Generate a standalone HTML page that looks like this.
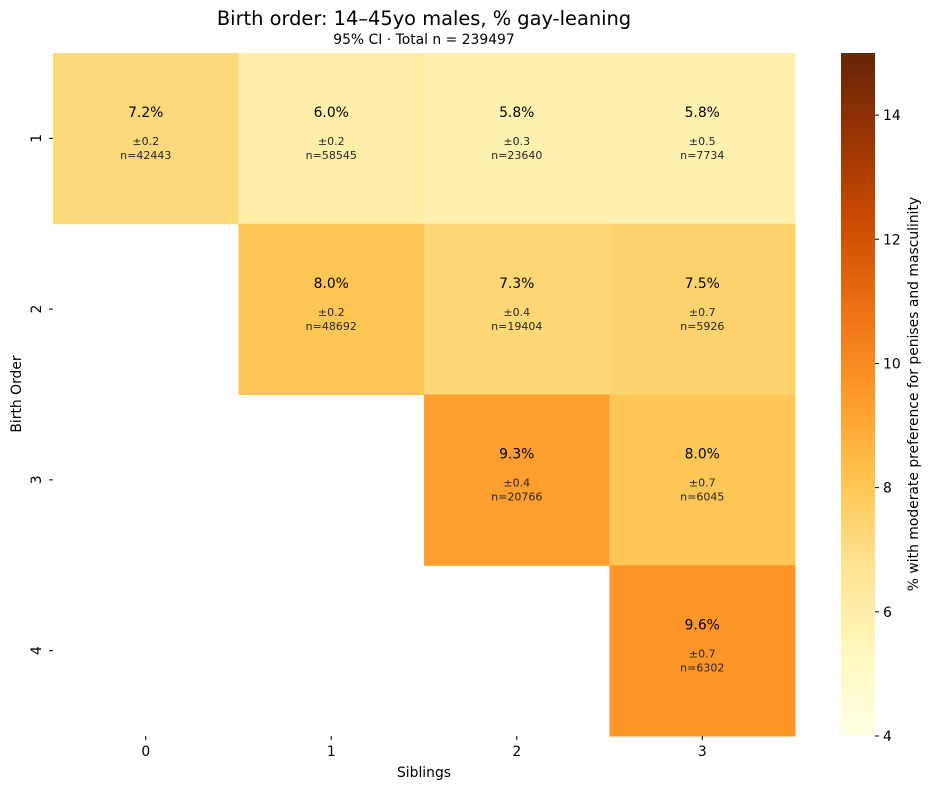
<!DOCTYPE html>
<html><head><meta charset="utf-8"><style>
body{margin:0;background:#fff;font-family:"DejaVu Sans",sans-serif;}
svg text{font-family:"DejaVu Sans","Liberation Sans",sans-serif;}
</style></head><body>
<svg id="chart" width="932" height="790" viewBox="0 0 932 790">
<defs><linearGradient id="cbg" x1="0" y1="1" x2="0" y2="0">
<stop offset="0" stop-color="#ffffe5"/><stop offset="0.125" stop-color="#fff7bc"/><stop offset="0.25" stop-color="#fee391"/><stop offset="0.375" stop-color="#fec44f"/><stop offset="0.5" stop-color="#fe9929"/><stop offset="0.625" stop-color="#ec7014"/><stop offset="0.75" stop-color="#cc4c02"/><stop offset="0.875" stop-color="#993404"/><stop offset="1" stop-color="#662506"/></linearGradient></defs>
<text x="424" y="25" font-size="19.4" text-anchor="middle" fill="#000">Birth order: 14–45yo males, % gay-leaning</text>
<text x="424" y="44" font-size="13.9" text-anchor="middle" fill="#000">95% CI · Total n = 239497</text>
<g id="cells"></g>
<g id="axes"></g>
<rect x="841" y="53" width="34" height="683" fill="url(#cbg)"/>
<g id="cbticks"></g>
<text transform="translate(918,394) rotate(-90)" font-size="13.9" text-anchor="middle">% with moderate preference for penises and masculinity</text>
<text x="424" y="777" font-size="13.9" text-anchor="middle">Siblings</text>
<text transform="translate(21,394) rotate(-90)" font-size="13.9" text-anchor="middle">Birth Order</text>
</svg>
<script>
const siblings=["0","1","2","3"];
const birthOrders=["1","2","3","4"];
const cellSib=[0,1,2,3,1,2,3,2,3,3];
const cellOrder=[0,0,0,0,1,1,1,2,2,3];
const cellValues=[7.2,6.0,5.8,5.8,8.0,7.3,7.5,9.3,8.0,9.6];
const cellCI=["0.2","0.2","0.3","0.5","0.2","0.4","0.7","0.4","0.7","0.7"];
const cellN=[42443,58545,23640,7734,48692,19404,5926,20766,6045,6302];
const cbTicks=[4,6,8,10,12,14];
const vmin=4,vmax=15;
const X0=53,X1=795,Y0=53,Y1=736;
const cw=(X1-X0)/siblings.length, ch=(Y1-Y0)/birthOrders.length;
const xs=i=>X0+i*cw, ys=j=>Y0+j*ch;
const cbY=v=>Y1-(v-vmin)/(vmax-vmin)*(Y1-Y0);
const stops=["#ffffe5","#fff7bc","#fee391","#fec44f","#fe9929","#ec7014","#cc4c02","#993404","#662506"].map(h=>[1,3,5].map(k=>parseInt(h.substr(k,2),16)));
function color(v){let t=Math.max(0,Math.min(1,(v-vmin)/(vmax-vmin)))*8;let i=Math.min(7,Math.floor(t)),f=t-i;const c=stops[i].map((a,k)=>Math.round(a+(stops[i+1][k]-a)*f));return `rgb(${c})`;}
const NS="http://www.w3.org/2000/svg";
function mk(tag,attrs,txt){const e=document.createElementNS(NS,tag);for(const k in attrs)e.setAttribute(k,attrs[k]);if(txt!==undefined)e.textContent=txt;return e;}
const cells=document.getElementById('cells');
cellValues.forEach((v,i)=>{
 const x=xs(cellSib[i]),y=ys(cellOrder[i]),cx=x+cw/2;
 const r=mk('rect',{x:x,y:y,width:cw+0.5,height:ch+0.5,fill:color(v)});
 
 
 cells.appendChild(r);
 const t1=mk('text',{x:cx,y:y+64,'font-size':13.9,'text-anchor':'middle',fill:'#000'},v.toFixed(1)+'%');
 
 
 cells.appendChild(t1);
 const t2=mk('text',{x:cx,y:y+92,'font-size':11,'text-anchor':'middle',fill:'#262626'},'±'+cellCI[i]);
 
 
 cells.appendChild(t2);
 const t3=mk('text',{x:cx,y:y+106,'font-size':11,'text-anchor':'middle',fill:'#262626'},'n='+cellN[i]);
 
 
 cells.appendChild(t3);
});
const ax=document.getElementById('axes');
siblings.forEach((s,i)=>{const cx=xs(i)+cw/2;
 ax.appendChild(mk('line',{x1:cx,x2:cx,y1:Y1,y2:Y1+4,stroke:'#000'}));
 const t=mk('text',{x:cx,y:Y1+20,'font-size':13.9,'text-anchor':'middle'},s);
 
 
 ax.appendChild(t);});
birthOrders.forEach((b,j)=>{const cy=ys(j)+ch/2;
 ax.appendChild(mk('line',{x1:X0-4,x2:X0,y1:cy,y2:cy,stroke:'#000'}));
 const t=mk('text',{transform:`translate(${X0-12},${cy}) rotate(-90)`,'font-size':13.9,'text-anchor':'middle'},b);
 
 
 ax.appendChild(t);});
const cb=document.getElementById('cbticks');
cbTicks.forEach(v=>{const y=cbY(v);
 cb.appendChild(mk('line',{x1:875,x2:879,y1:y,y2:y,stroke:'#000'}));
 const t=mk('text',{x:883,y:y+5,'font-size':13.9},String(v));
 
 
 cb.appendChild(t);});
</script>
</body></html>
